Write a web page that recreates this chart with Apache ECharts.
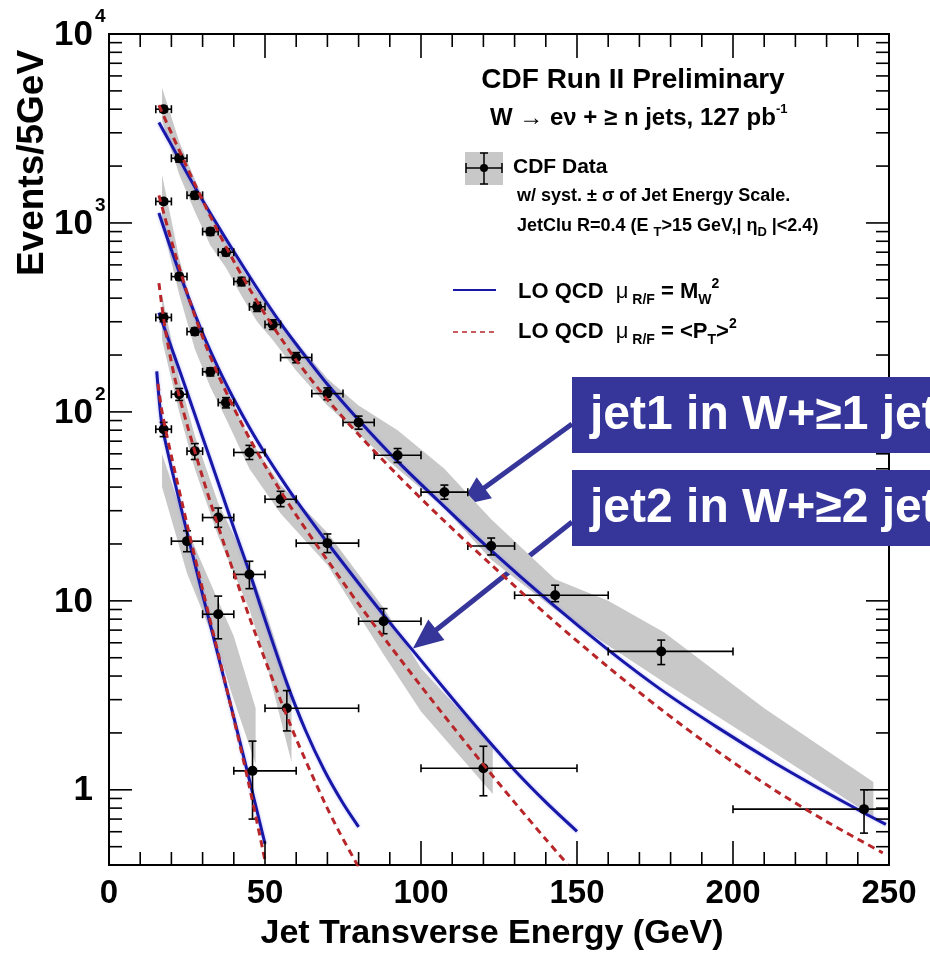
<!DOCTYPE html>
<html>
<head>
<meta charset="utf-8">
<script src="https://cdn.jsdelivr.net/npm/echarts@6/dist/echarts.min.js"></script>
<style>
  html, body { margin: 0; padding: 0; background: #fff; }
  #main { width: 930px; height: 955px; }
</style>
</head>
<body>
<div id="main"></div>
<script>
// ---- data ----
// jet1 in W+>=1 jet
const j1E = [17.5, 22.5, 27.5, 32.5, 37.5, 42.5, 47.5, 52.5, 60, 70, 80, 92.5, 107.5, 122.5, 143, 177, 242]
const j1XLo = [15, 20, 25, 30, 35, 40, 45, 50, 55, 65, 75, 85, 100, 115, 130, 160, 200]
const j1XHi = [20, 25, 30, 35, 40, 45, 50, 55, 65, 75, 85, 100, 115, 130, 160, 200, 250]
const j1Y = [4000, 2200, 1400, 900, 700, 490, 360, 290, 194, 125, 88, 59, 37.6, 19.5, 10.7, 5.4, 0.79]
const j1YLo = [3850, 2100, 1340, 860, 670, 465, 340, 273, 182, 116, 81, 54, 34.5, 17.5, 9.9, 4.6, 0.59]
const j1YHi = [4150, 2300, 1460, 940, 730, 515, 380, 307, 206, 134, 95, 64, 41, 21.5, 12.1, 6.2, 1.0]

// jet2 in W+>=2 jets
const j2E = [17.5, 22.5, 27.5, 32.5, 37.5, 45, 55, 70, 88, 120]
const j2XLo = [15, 20, 25, 30, 35, 40, 50, 60, 80, 100]
const j2XHi = [20, 25, 30, 35, 40, 50, 60, 80, 100, 150]
const j2Y = [1300, 520, 266, 163, 112, 61, 34.5, 20.2, 7.8, 1.3]
const j2YLo = [1260, 500, 255, 155, 105, 56, 31.5, 18, 6.7, 0.93]
const j2YHi = [1340, 540, 278, 171, 119, 66.5, 38, 22.6, 9.1, 1.7]

// jet3 in W+>=3 jets
const j3E = [17.5, 22.5, 27.5, 35, 45, 57]
const j3XLo = [15, 20, 25, 30, 40, 50]
const j3XHi = [20, 25, 30, 40, 50, 80]
const j3Y = [316, 124, 62, 27.6, 13.8, 2.7]
const j3YLo = [300, 115, 56, 24.5, 11.6, 2.05]
const j3YHi = [332, 133, 68, 31, 16.2, 3.35]

// jet4 in W+>=4 jets
const j4E = [17.5, 25, 35, 46]
const j4XLo = [15, 20, 30, 40]
const j4XHi = [20, 30, 40, 60]
const j4Y = [81, 20.7, 8.5, 1.26]
const j4YLo = [74, 18.2, 6.3, 0.70]
const j4YHi = [88, 23.5, 10.6, 1.81]

// LO QCD, mu = M_W^2 (blue)
const blue1E = [16, 20, 28, 39, 47, 55, 60, 70, 80, 93, 106, 122, 142, 160, 177, 195, 213, 230, 242, 249]
const blue1V = [3400, 2590, 1500, 750, 464, 295, 228, 140, 90.7, 53.7, 33.3, 18.8, 9.64, 5.5, 3.38, 2.14, 1.40, 0.967, 0.754, 0.656]
const blue2E = [16, 20, 25, 30, 35, 40, 45, 50, 55, 60, 70, 80, 90, 100, 110, 120, 130, 140, 150]
const blue2V = [1130, 719, 424, 261, 171, 117, 82.6, 60.2, 44.9, 34.0, 20.3, 12.4, 7.67, 4.84, 3.05, 1.95, 1.27, 0.861, 0.603]
const blue3E = [16, 20, 25, 30, 35, 40, 45, 50, 57, 63, 69, 75, 80]
const blue3V = [335, 219, 128, 73.5, 42.3, 24.3, 14.2, 7.96, 3.67, 2.06, 1.27, 0.849, 0.637]
const blue4E = [15.3, 16, 17, 20, 25, 30, 35, 40, 45, 50]
const blue4V = [164, 120, 85, 50.6, 23.1, 10.8, 5.12, 2.42, 1.13, 0.518]

// LO QCD, mu = <PT>^2 (red dashed)
const red1E = [16, 20, 25, 30, 35, 40, 45, 50, 55, 60, 70, 80, 92, 106, 122, 142, 160, 177, 195, 213, 230, 248]
const red1V = [4200, 2985, 1972, 1318, 897, 627, 449, 329, 247, 188, 116, 75.9, 47.2, 27.9, 15.8, 7.97, 4.46, 2.66, 1.60, 1.005, 0.679, 0.464]
const red2E = [16, 20, 25, 30, 35, 40, 45, 50, 55, 60, 70, 80, 90, 100, 110, 120, 130, 140, 147]
const red2V = [1400, 805, 428, 249, 157, 105, 72.6, 52, 38.1, 28.4, 16.4, 9.63, 5.80, 3.54, 2.18, 1.36, 0.858, 0.547, 0.403]
const red3E = [16, 18, 21, 25, 30, 35, 40, 45, 50, 55, 60, 69, 74, 80]
const red3V = [480, 276, 153, 85.9, 45.1, 24.8, 14.1, 8.2, 4.89, 2.98, 1.86, 0.863, 0.59, 0.39]
const red4E = [15.7, 17, 20, 25, 30, 35, 40, 45, 50]
const red4V = [141, 100, 58.3, 25.5, 11.5, 5.26, 2.38, 1.04, 0.423]

// systematic (jet energy scale) bands
const band1E = [17, 22.5, 27.5, 32.5, 37.5, 42.5, 47.5, 52.5, 60, 70, 80, 92.5, 107.5, 122.5, 143, 160, 178, 210, 245]
const band1Lo = [3500, 1800, 1150, 760, 580, 410, 300, 240, 165, 108, 76, 50, 31, 16.5, 9, 5.8, 3.7, 1.7, 0.72]
const band1Hi = [5200, 2700, 1700, 1100, 820, 580, 430, 340, 235, 150, 108, 80, 50, 27, 13, 10, 6.8, 2.7, 1.1]
const band2E = [17, 22.5, 27.5, 32.5, 37.5, 45, 55, 70, 88, 100, 123]
const band2Lo = [1000, 420, 215, 135, 92, 50, 29, 15.5, 5.2, 2.6, 0.95]
const band2Hi = [1800, 650, 320, 200, 135, 72, 41, 23, 9.2, 4.4, 1.7]
const band3E = [17, 22.5, 27.5, 35, 45, 50, 58.5]
const band3Lo = [240, 100, 50, 22, 9, 5, 1.4]
const band3Hi = [420, 150, 75, 33, 15, 9, 3.3]
const band4E = [17, 25, 35, 40, 47]
const band4Lo = [40, 14, 5.5, 3, 1.37]
const band4Hi = [60, 24, 10, 6.5, 2.7]

// axes
const xMajor = [0, 50, 100, 150, 200, 250]
const yLabelVals = [1, 10, 100, 1000, 10000]
const yLabelBase = ['1', '10', '10', '10', '10']
const yLabelExp = ['', '', '2', '3', '4']

const xTicks = []
for (let v = 0; v <= 250; v += 10) xTicks.push(v)
const yTicks = []
for (const d of [0.1, 1, 10, 100, 1000]) {
  for (let m = 1; m <= 9; m++) {
    const v = +(m * d).toPrecision(3)
    if (v >= 0.4 && v <= 10000) yTicks.push(v)
  }
}
yTicks.push(10000)

const FONT = '"Liberation Sans", Arial, sans-serif'
const BLUE = '#1818a8'
const RED = '#b8262a'
const GRAY = '#c8c8c8'
const BOX = '#35359a'

const chart = echarts.init(document.getElementById('main'))

function band(E, lo, hi) {
  return {
    type: 'custom', z: 1, silent: true,
    data: E.map((e, i) => [e, lo[i], hi[i]]),
    renderItem: function (params, api) {
      if (params.dataIndex !== 0) return
      const pts = []
      for (let i = 0; i < E.length; i++) pts.push(api.coord([E[i], hi[i]]))
      for (let i = E.length - 1; i >= 0; i--) pts.push(api.coord([E[i], lo[i]]))
      return { type: 'polygon', shape: { points: pts }, style: { fill: GRAY } }
    }
  }
}

function curve(E, V, color, dashed) {
  return {
    type: 'line', z: dashed ? 4 : 2, silent: true,
    data: E.map((e, i) => [e, V[i]]),
    smooth: 0.3, showSymbol: false,
    lineStyle: {
      color: color, width: 3, type: dashed ? [7, 5] : 'solid',
      shadowColor: dashed ? 'rgba(0,0,0,0)' : 'rgba(110,110,255,0.5)', shadowBlur: dashed ? 0 : 3
    }
  }
}

function points(E, xlo, xhi, y, ylo, yhi) {
  return {
    type: 'custom', z: 3, silent: true,
    data: E.map((e, i) => [e, y[i], xlo[i], xhi[i], ylo[i], yhi[i]]),
    renderItem: function (params, api) {
      const c = api.coord([api.value(0), api.value(1)])
      const l = api.coord([api.value(2), api.value(1)])
      const r = api.coord([api.value(3), api.value(1)])
      const b = api.coord([api.value(0), api.value(4)])
      const t = api.coord([api.value(0), api.value(5)])
      const st = { stroke: '#000', lineWidth: 1.6 }
      const cap = 4
      return {
        type: 'group', children: [
          { type: 'line', shape: { x1: l[0], y1: c[1], x2: r[0], y2: c[1] }, style: st },
          { type: 'line', shape: { x1: l[0], y1: c[1] - cap, x2: l[0], y2: c[1] + cap }, style: st },
          { type: 'line', shape: { x1: r[0], y1: c[1] - cap, x2: r[0], y2: c[1] + cap }, style: st },
          { type: 'line', shape: { x1: c[0], y1: b[1], x2: c[0], y2: t[1] }, style: st },
          { type: 'line', shape: { x1: c[0] - cap, y1: b[1], x2: c[0] + cap, y2: b[1] }, style: st },
          { type: 'line', shape: { x1: c[0] - cap, y1: t[1], x2: c[0] + cap, y2: t[1] }, style: st },
          { type: 'circle', shape: { cx: c[0], cy: c[1], r: 5 }, style: { fill: '#000' } }
        ]
      }
    }
  }
}

const tickStyle = { stroke: '#000', lineWidth: 1.6 }

const option = {
  animation: false,
  backgroundColor: '#fff',
  grid: { left: 109, right: 41, top: 34, bottom: 90, show: true, borderColor: '#000', borderWidth: 2 },
  xAxis: {
    type: 'value', min: 0, max: 250, interval: 50,
    axisLine: { show: false }, axisTick: { show: false }, splitLine: { show: false },
    axisLabel: { color: '#000', fontFamily: FONT, fontWeight: 'bold', fontSize: 33, margin: 12 }
  },
  yAxis: {
    type: 'log', logBase: 10, min: 0.4, max: 10000,
    axisLine: { show: false }, axisTick: { show: false }, splitLine: { show: false },
    axisLabel: { show: false }
  },
  series: [
    band(band1E, band1Lo, band1Hi),
    band(band2E, band2Lo, band2Hi),
    band(band3E, band3Lo, band3Hi),
    band(band4E, band4Lo, band4Hi),
    curve(blue1E, blue1V, BLUE, false),
    curve(blue2E, blue2V, BLUE, false),
    curve(blue3E, blue3V, BLUE, false),
    curve(blue4E, blue4V, BLUE, false),
    points(j1E, j1XLo, j1XHi, j1Y, j1YLo, j1YHi),
    points(j2E, j2XLo, j2XHi, j2Y, j2YLo, j2YHi),
    points(j3E, j3XLo, j3XHi, j3Y, j3YLo, j3YHi),
    points(j4E, j4XLo, j4XHi, j4Y, j4YLo, j4YHi),
    curve(red1E, red1V, RED, true),
    curve(red2E, red2V, RED, true),
    curve(red3E, red3V, RED, true),
    curve(red4E, red4V, RED, true),
    {
      // x ticks, bottom and top, pointing inwards
      type: 'custom', z: 6, silent: true,
      data: xTicks.map(v => [v, 1]),
      renderItem: function (params, api) {
        const v = api.value(0)
        const x = api.coord([v, 1])[0]
        const cs = params.coordSys
        const len = xMajor.indexOf(v) >= 0 ? 24 : 13
        return {
          type: 'group', children: [
            { type: 'line', shape: { x1: x, y1: cs.y + cs.height, x2: x, y2: cs.y + cs.height - len }, style: tickStyle },
            { type: 'line', shape: { x1: x, y1: cs.y, x2: x, y2: cs.y + len }, style: tickStyle }
          ]
        }
      }
    },
    {
      // y ticks, left and right
      type: 'custom', z: 6, silent: true,
      data: yTicks.map(v => [0, v]),
      renderItem: function (params, api) {
        const v = api.value(1)
        const y = api.coord([0, v])[1]
        const cs = params.coordSys
        const len = yLabelVals.indexOf(v) >= 0 ? 23 : 13
        return {
          type: 'group', children: [
            { type: 'line', shape: { x1: cs.x, y1: y, x2: cs.x + len, y2: y }, style: tickStyle },
            { type: 'line', shape: { x1: cs.x + cs.width, y1: y, x2: cs.x + cs.width - len, y2: y }, style: tickStyle }
          ]
        }
      }
    },
    {
      // y tick labels, powers of ten
      type: 'custom', z: 6, silent: true,
      data: yLabelVals.map(v => [0, v]),
      renderItem: function (params, api) {
        const i = params.dataIndex
        const y = api.coord([0, api.value(1)])[1]
        const cs = params.coordSys
        const kids = [{
          type: 'text', x: cs.x - 16, y: y + 1,
          style: { text: yLabelBase[i], fill: '#000', font: 'bold 35px ' + FONT, align: 'right', verticalAlign: 'middle' }
        }]
        if (yLabelExp[i]) {
          kids.push({
            type: 'text', x: cs.x - 14, y: y - 17,
            style: { text: yLabelExp[i], fill: '#000', font: 'bold 19px ' + FONT, align: 'left', verticalAlign: 'middle' }
          })
        }
        return { type: 'group', children: kids }
      }
    }
  ]
}

chart.setOption(option)

// annotation arrows point at these (E, events) spots
const arrowTip1 = [112.5, 32]
const arrowTip2 = [97.4, 5.6]

function arrow(from, to) {
  const dx = to[0] - from[0], dy = to[1] - from[1]
  const L = Math.hypot(dx, dy)
  const ux = dx / L, uy = dy / L, hl = 30, hw = 13
  const bx = to[0] - ux * hl, by = to[1] - uy * hl
  return [
    { type: 'line', shape: { x1: from[0], y1: from[1], x2: bx + ux * 2, y2: by + uy * 2 }, style: { stroke: BOX, lineWidth: 5 } },
    { type: 'polygon', shape: { points: [to, [bx - uy * hw, by + ux * hw], [bx + uy * hw, by - ux * hw]] }, style: { fill: BOX } }
  ]
}

const tip1 = chart.convertToPixel({ gridIndex: 0 }, arrowTip1)
const tip2 = chart.convertToPixel({ gridIndex: 0 }, arrowTip2)

const txt = (x, y, text, size, extra) => ({
  type: 'text', x: x, y: y, z: 100,
  style: Object.assign({ text: text, fill: '#000', font: 'bold ' + size + 'px ' + FONT, align: 'left', verticalAlign: 'middle' }, extra || {})
})

const sub = (size) => ({ fontSize: size, fontWeight: 'bold', fontFamily: FONT, verticalAlign: 'bottom', lineHeight: 30 })
const sup = (size) => ({ fontSize: size, fontWeight: 'bold', fontFamily: FONT, verticalAlign: 'top', lineHeight: 30 })

const es = { stroke: '#000', lineWidth: 1.5 }

chart.setOption({
  graphic: [
    // axis titles
    { type: 'text', x: 33, y: 163, rotation: Math.PI / 2, z: 100,
      style: { text: 'Events/5GeV', fill: '#000', font: 'bold 37px ' + FONT, align: 'center', verticalAlign: 'middle' } },
    txt(492, 934, 'Jet Transverse Energy (GeV)', 34, { align: 'center' }),

    // header
    txt(633, 80, 'CDF Run II Preliminary', 28, { align: 'center' }),
    txt(490, 118, 'W \u2192 e\u03bd + \u2265 n jets, 127 pb{sp|-1}', 24, {
      lineHeight: 30, rich: { sp: sup(13) }
    }),

    // data legend entry
    { type: 'rect', z: 100, shape: { x: 465, y: 152, width: 38, height: 33 }, style: { fill: GRAY } },
    { type: 'line', z: 101, shape: { x1: 466, y1: 168, x2: 502, y2: 168 }, style: es },
    { type: 'line', z: 101, shape: { x1: 466, y1: 163, x2: 466, y2: 173 }, style: es },
    { type: 'line', z: 101, shape: { x1: 502, y1: 163, x2: 502, y2: 173 }, style: es },
    { type: 'line', z: 101, shape: { x1: 484, y1: 153, x2: 484, y2: 184 }, style: es },
    { type: 'line', z: 101, shape: { x1: 480, y1: 153, x2: 488, y2: 153 }, style: es },
    { type: 'line', z: 101, shape: { x1: 480, y1: 184, x2: 488, y2: 184 }, style: es },
    { type: 'circle', z: 101, shape: { cx: 484, cy: 168, r: 4 }, style: { fill: '#000' } },
    txt(513, 167, 'CDF Data', 21),
    txt(517, 196, 'w/ syst. \u00b1 \u03c3 of Jet Energy Scale.', 18),
    txt(517, 226, 'JetClu R=0.4 (E {sb|T}>15 GeV,| \u03b7{sb|D} |<2.4)', 18, {
      lineHeight: 26, rich: { sb: { fontSize: 13, fontWeight: 'bold', fontFamily: FONT, verticalAlign: 'bottom', lineHeight: 26 } }
    }),

    // model legend entries
    { type: 'line', z: 100, shape: { x1: 453, y1: 290, x2: 496, y2: 290 }, style: { stroke: BLUE, lineWidth: 2 } },
    txt(518, 292, 'LO QCD  {mu|\u03bc}{sb| R/F} = M{sb|W}{sp|2}', 22, {
      lineHeight: 30, rich: { mu: { fontSize: 22, fontFamily: FONT, lineHeight: 30 }, sb: sub(14), sp: sup(14) }
    }),
    { type: 'line', z: 100, shape: { x1: 453, y1: 332, x2: 496, y2: 332 }, style: { stroke: RED, lineWidth: 1.5, lineDash: [5, 4] } },
    txt(518, 332, 'LO QCD  {mu|\u03bc}{sb| R/F} = <P{sb|T}>{sp|2}', 22, {
      lineHeight: 30, rich: { mu: { fontSize: 22, fontFamily: FONT, lineHeight: 30 }, sb: sub(14), sp: sup(14) }
    }),

    // annotation boxes and arrows
    ...arrow([572, 424], tip1),
    ...arrow([572, 522], tip2),
    { type: 'rect', z: 100, shape: { x: 572, y: 377, width: 400, height: 76 }, style: { fill: BOX } },
    txt(590, 416, 'jet1 in W+\u22651 jets', 48, { fill: '#fff' }),
    { type: 'rect', z: 100, shape: { x: 572, y: 470, width: 400, height: 76 }, style: { fill: BOX } },
    txt(590, 509, 'jet2 in W+\u22652 jets', 48, { fill: '#fff' })
  ]
})
</script>
</body>
</html>
